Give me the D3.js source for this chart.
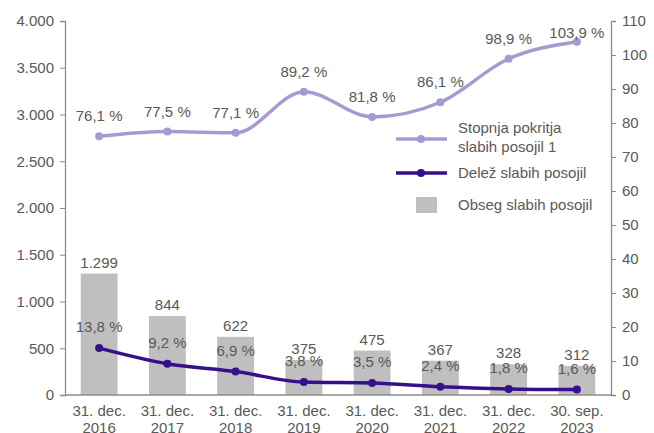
<!DOCTYPE html>
<html><head><meta charset="utf-8">
<script src="https://cdn.jsdelivr.net/npm/d3@7/dist/d3.min.js"></script>
<style>body{margin:0;background:#fff;}text{font-family:"Liberation Sans",Arial,sans-serif;}</style>
</head><body><svg id="c" width="654" height="433"></svg>
<script>
const categories = [["31. dec.","2016"],["31. dec.","2017"],["31. dec.","2018"],["31. dec.","2019"],["31. dec.","2020"],["31. dec.","2021"],["31. dec.","2022"],["30. sep.","2023"]];
const obseg = [1299, 844, 622, 375, 475, 367, 328, 312];
const pokritje = [76.1, 77.5, 77.1, 89.2, 81.8, 86.1, 98.9, 103.9];
const delez = [13.8, 9.2, 6.9, 3.8, 3.5, 2.4, 1.8, 1.6];
const leftTicks = [0,500,1000,1500,2000,2500,3000,3500,4000];
const rightTicks = [0,10,20,30,40,50,60,70,80,90,100,110];
const legendLabels = [["Stopnja pokritja","slabih posojil 1"],["Delež slabih posojil"],["Obseg slabih posojil"]];

const svg = d3.select("#c");
const L = 65, R = 611, T = 21, B = 395;
const txt = "#595959", axisCol = "#8c8c8c";
const cLight = "#a899d3", cDark = "#35108a", cBar = "#bfbfbf";
const idx = categories.map((d,i)=>i);
const x = d3.scaleBand().domain(idx).range([L,R]).paddingInner(0.46).paddingOuter(0.23);
const yL = d3.scaleLinear().domain([0,4000]).range([B,T]);
const yR = d3.scaleLinear().domain([0,110]).range([B,T]);
const fmtInt = d3.formatLocale({decimal:",",thousands:".",grouping:[3],currency:["","€"]}).format(",d");
const fmtPct = v => v.toFixed(1).replace(".",",") + " %";
const cx = i => x(i) + x.bandwidth()/2;

// bars
svg.selectAll("rect.bar").data(obseg).join("rect").attr("class","bar")
  .attr("x",(d,i)=>x(i)).attr("width",x.bandwidth())
  .attr("y",d=>yL(d)).attr("height",d=>B-yL(d)).attr("fill",cBar);

// axes
const gl = svg.append("g").attr("transform",`translate(${L},0)`)
  .call(d3.axisLeft(yL).tickValues(leftTicks).tickFormat(fmtInt).tickSize(5).tickPadding(6));
const gr = svg.append("g").attr("transform",`translate(${R},0)`)
  .call(d3.axisRight(yR).tickValues(rightTicks).tickSize(5).tickPadding(6));
const gb = svg.append("g").attr("transform",`translate(0,${B})`)
  .call(d3.axisBottom(x).tickSize(0).tickFormat(""));
[gl,gr,gb].forEach(g=>{
  g.select(".domain").attr("stroke",axisCol).attr("stroke-width",1.3);
  g.selectAll(".tick line").attr("stroke",axisCol);
  g.selectAll(".tick text").attr("fill",txt).style("font-size","15px").style("font-family","Liberation Sans, Arial, sans-serif");
});
gb.select(".domain").attr("d",`M${L},0H${R}`);
// x labels
const xl = svg.append("g");
categories.forEach((c,i)=>{
  const t = xl.append("text").attr("x",cx(i)).attr("text-anchor","middle").attr("fill",txt).style("font-size","15px");
  t.append("tspan").attr("x",cx(i)).attr("y",416).text(c[0]);
  t.append("tspan").attr("x",cx(i)).attr("y",433).text(c[1]);
});

// lines
const lineL = d3.line().x((d,i)=>cx(i)).y(d=>yR(d)).curve(d3.curveMonotoneX);
svg.append("path").datum(pokritje).attr("d",lineL).attr("fill","none").attr("stroke",cLight).attr("stroke-width",3.5);
svg.selectAll("circle.pl").data(pokritje).join("circle").attr("class","pl").attr("cx",(d,i)=>cx(i)).attr("cy",d=>yR(d)).attr("r",4).attr("fill",cLight);
svg.append("path").datum(delez).attr("d",lineL).attr("fill","none").attr("stroke",cDark).attr("stroke-width",3.5);
svg.selectAll("circle.dl").data(delez).join("circle").attr("class","dl").attr("cx",(d,i)=>cx(i)).attr("cy",d=>yR(d)).attr("r",4).attr("fill",cDark);

// data labels
svg.selectAll("text.bl").data(obseg).join("text").attr("class","bl")
  .attr("x",(d,i)=>cx(i)).attr("y",d=>yL(d)-6).attr("text-anchor","middle").attr("fill",txt).style("font-size","15px").text(fmtInt);
svg.selectAll("text.pll").data(pokritje).join("text").attr("class","pll")
  .attr("x",(d,i)=>cx(i)).attr("y",d=>Math.max(yR(d)-15, T+17)).attr("text-anchor","middle").attr("fill",txt).style("font-size","15px").text(fmtPct);
svg.selectAll("text.dll").data(delez).join("text").attr("class","dll")
  .attr("x",(d,i)=>cx(i)).attr("y",d=>yR(d)-16).attr("text-anchor","middle").attr("fill",txt).style("font-size","15px").text(fmtPct);

// legend
const lg = svg.append("g");
lg.append("line").attr("x1",396).attr("x2",447).attr("y1",139).attr("y2",139).attr("stroke",cLight).attr("stroke-width",3.5);
lg.append("circle").attr("cx",421).attr("cy",139).attr("r",4).attr("fill",cLight);
const t1 = lg.append("text").attr("fill",txt).style("font-size","15px");
t1.append("tspan").attr("x",458).attr("y",133).text(legendLabels[0][0]);
t1.append("tspan").attr("x",458).attr("y",152).text(legendLabels[0][1]);
lg.append("line").attr("x1",396).attr("x2",447).attr("y1",173).attr("y2",173).attr("stroke",cDark).attr("stroke-width",3.5);
lg.append("circle").attr("cx",421).attr("cy",173).attr("r",4).attr("fill",cDark);
lg.append("text").attr("x",458).attr("y",178).attr("fill",txt).style("font-size","15px").text(legendLabels[1][0]);
lg.append("rect").attr("x",416).attr("y",197).attr("width",21).attr("height",16).attr("fill",cBar);
lg.append("text").attr("x",458).attr("y",210).attr("fill",txt).style("font-size","15px").text(legendLabels[2][0]);
</script></body></html>
